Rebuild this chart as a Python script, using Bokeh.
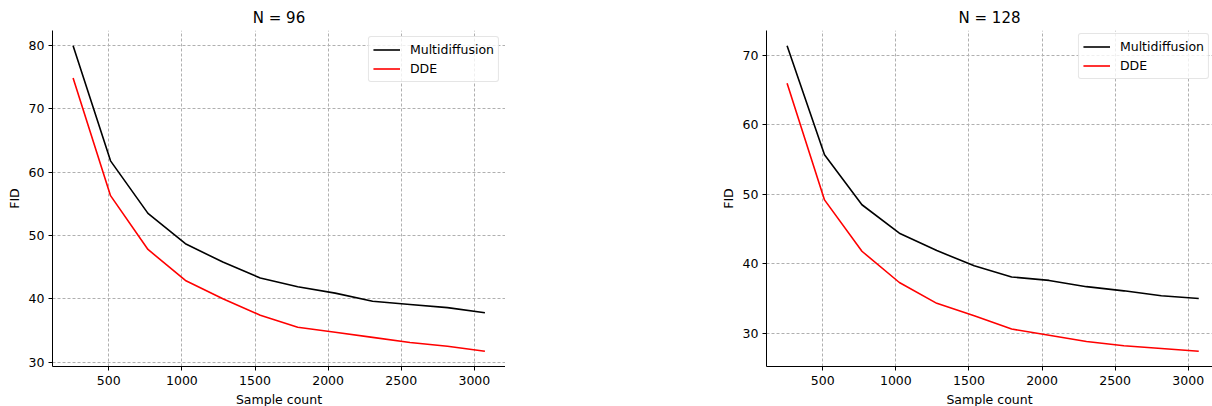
from bokeh.plotting import figure
from bokeh.layouts import row
from bokeh.models import Range1d, FixedTicker, Legend, LegendItem
from bokeh.embed import file_html
from bokeh.resources import INLINE

sample_count = [256, 512, 768, 1024, 1280, 1536, 1792, 2048, 2304, 2560, 2816, 3072]

n96_multidiffusion = [80.0, 61.8, 53.5, 48.7, 45.8, 43.3, 41.9, 40.9, 39.6, 39.1, 38.6, 37.8]
n96_dde = [74.9, 56.3, 47.8, 42.9, 40.0, 37.4, 35.5, 34.7, 33.9, 33.1, 32.5, 31.7]

n128_multidiffusion = [71.4, 55.7, 48.5, 44.4, 41.9, 39.7, 38.1, 37.6, 36.7, 36.1, 35.4, 35.0]
n128_dde = [66.0, 49.2, 41.8, 37.3, 34.3, 32.5, 30.6, 29.7, 28.8, 28.2, 27.8, 27.4]

x_ticks = [500, 1000, 1500, 2000, 2500, 3000]
y_ticks_96 = [30, 40, 50, 60, 70, 80]
y_ticks_128 = [30, 40, 50, 60, 70]

FONT = "DejaVu Sans"


def make_fig(title, ys_black, ys_red, yticks, x_end, y_start, y_end,
             frame_w, border_left, legend_margin):
    p = figure(frame_width=frame_w, frame_height=336,
               output_backend="svg", toolbar_location=None,
               x_range=Range1d(115.2, x_end), y_range=Range1d(y_start, y_end),
               min_border_left=border_left, min_border_right=0,
               min_border_top=30, min_border_bottom=40)
    p.title.text = title
    p.title.align = "center"
    p.title.text_font = FONT
    p.title.text_font_size = "15px"
    p.title.text_font_style = "normal"
    p.title.text_color = "black"
    p.title.standoff = 8
    p.outline_line_color = None
    p.background_fill_color = "white"
    p.border_fill_color = "white"

    for ax in (p.xaxis[0], p.yaxis[0]):
        ax.axis_line_color = "black"
        ax.axis_line_width = 1
        ax.major_tick_line_color = "black"
        ax.major_tick_out = 4
        ax.major_tick_in = 0
        ax.minor_tick_line_color = None
        ax.major_label_text_font = FONT
        ax.major_label_text_font_size = "12.5px"
        ax.major_label_text_color = "black"
        ax.axis_label_text_font = FONT
        ax.axis_label_text_font_size = "12.5px"
        ax.axis_label_text_font_style = "normal"
        ax.axis_label_text_color = "black"
        ax.major_label_standoff = 4
        ax.axis_label_standoff = 4
    p.xaxis[0].major_label_standoff = 5

    p.xaxis[0].ticker = FixedTicker(ticks=x_ticks)
    p.yaxis[0].ticker = FixedTicker(ticks=yticks)
    p.xaxis[0].axis_label = "Sample count"
    p.yaxis[0].axis_label = "FID"

    for g in (p.xgrid[0], p.ygrid[0]):
        g.grid_line_color = "#b0b0b0"
        g.grid_line_dash = "3 2"
        g.grid_line_width = 1
    p.xgrid[0].ticker = FixedTicker(ticks=x_ticks)
    p.ygrid[0].ticker = FixedTicker(ticks=yticks)

    r1 = p.line(sample_count, ys_black, line_color="black", line_width=1.6)
    r2 = p.line(sample_count, ys_red, line_color="red", line_width=1.6)

    legend = Legend(items=[LegendItem(label="Multidiffusion", renderers=[r1]),
                           LegendItem(label="DDE", renderers=[r2])],
                    location="top_right")
    legend.label_text_font = FONT
    legend.label_text_font_size = "12.5px"
    legend.label_text_color = "black"
    legend.border_line_color = "#cccccc"
    legend.border_line_width = 1
    legend.border_radius = 3
    legend.background_fill_alpha = 0.8
    legend.glyph_width = 27
    legend.glyph_height = 17
    legend.label_height = 17
    legend.label_standoff = 10
    legend.spacing = 2
    legend.padding = 4
    legend.margin = legend_margin
    p.add_layout(legend)
    return p


p1 = make_fig("N = 96", n96_multidiffusion, n96_dde, y_ticks_96,
              3212.8, 29.3, 82.4, 453, 52, 6)
p2 = make_fig("N = 128", n128_multidiffusion, n128_dde, y_ticks_128,
              3166.0, 25.2, 73.6, 446, 261, 3)

layout = row(p1, p2)
open("out.html", "w").write(file_html(layout, INLINE))
